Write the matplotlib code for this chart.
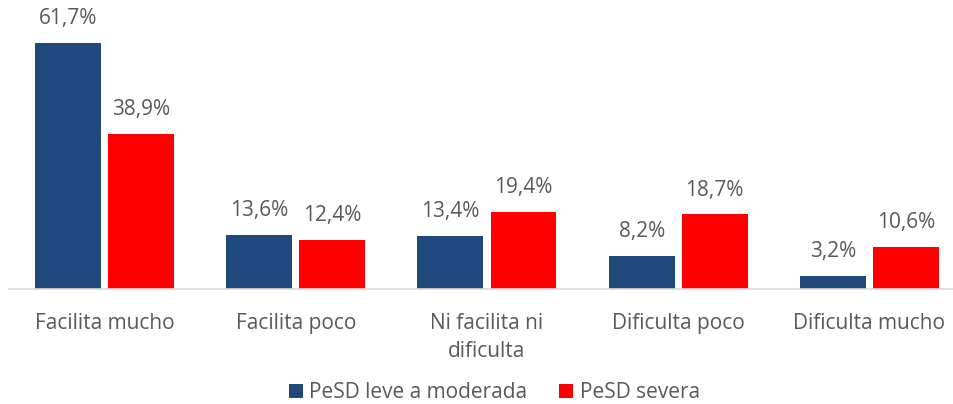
import numpy as np
import matplotlib.pyplot as plt

categorias = ["Facilita mucho", "Facilita poco", "Ni facilita ni\ndificulta",
              "Dificulta poco", "Dificulta mucho"]
leve_moderada = [61.7, 13.6, 13.4, 8.2, 3.2]
severa = [38.9, 12.4, 19.4, 18.7, 10.6]

azul = "#1F497D"
rojo = "#FF0000"
gris = "#595959"

plt.rcParams['font.family'] = ['Open Sans', 'DejaVu Sans']

fig = plt.figure(figsize=(9.54, 4.04), dpi=100)
ax = fig.add_axes([9 / 954, 1 - 289 / 404, 1 - 9 / 954, 279 / 404])

x = np.arange(len(categorias))
w = 0.345
off = 0.191
b1 = ax.bar(x - off, leve_moderada, w, color=azul, label="PeSD leve a moderada")
b2 = ax.bar(x + off, severa, w, color=rojo, label="PeSD severa")

for bars, vals in ((b1, leve_moderada), (b2, severa)):
    for r, v in zip(bars, vals):
        ax.annotate(f"{v:.1f}%".replace(".", ","),
                    (r.get_x() + r.get_width() / 2, r.get_height()),
                    xytext=(0, 10), textcoords="offset points",
                    ha="center", va="bottom", fontsize=15, color=gris)

ax.set_xlim(-0.5, 4.5 - 11 / 191.25)
ax.set_ylim(0, 70)
ax.set_xticks(x)
ax.set_xticklabels(categorias, fontsize=15, color=gris, linespacing=1.45, va="top")
ax.tick_params(axis="x", length=0, pad=17)
ax.set_yticks([])
for s in ("top", "right", "left"):
    ax.spines[s].set_visible(False)
ax.spines["bottom"].set_color("#D9D9D9")
ax.spines["bottom"].set_linewidth(1.2)

fig.legend(loc="lower center", bbox_to_anchor=(0.518, -0.045), ncol=2, frameon=False,
           fontsize=15, labelcolor=gris, handlelength=0.7, handleheight=0.7,
           handletextpad=0.3, columnspacing=1.5)

fig.savefig("out.png", dpi=100)
